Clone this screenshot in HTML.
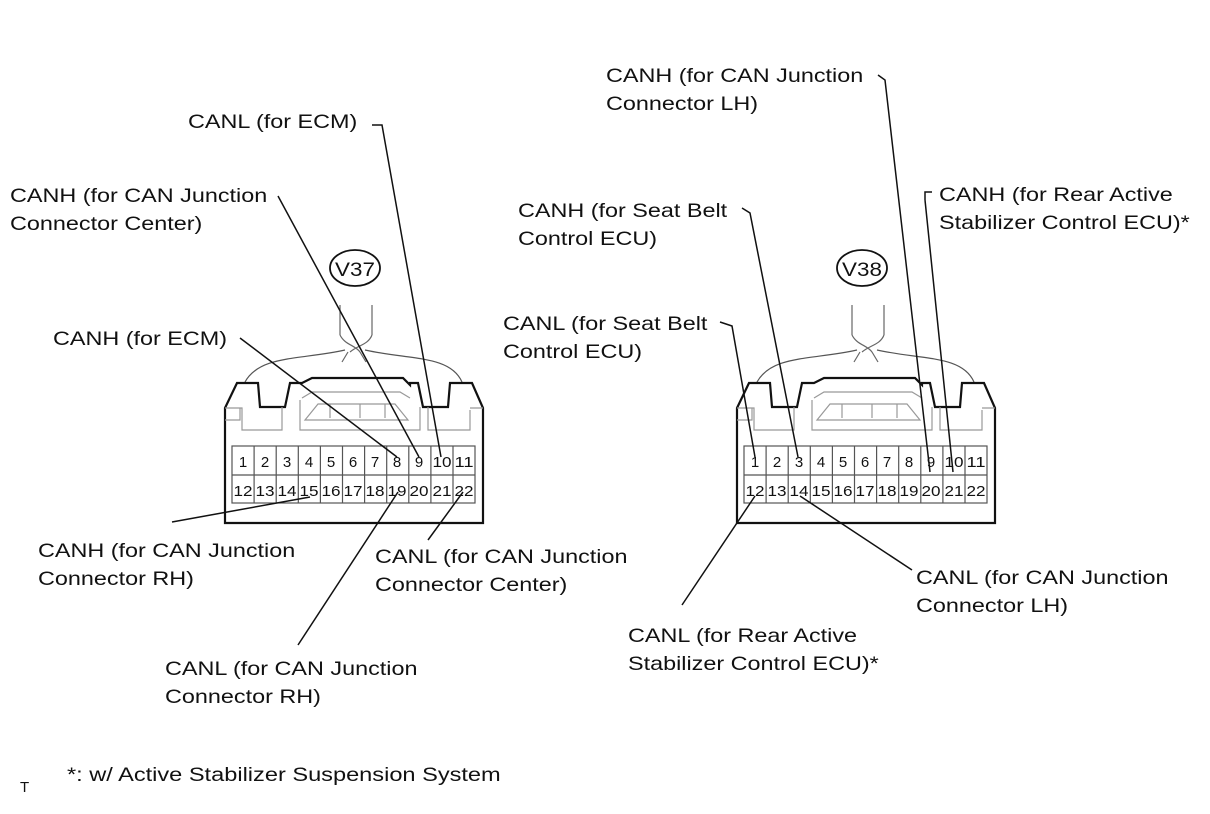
<!DOCTYPE html>
<html><head><meta charset="utf-8"><style>
html,body{margin:0;padding:0;background:#fff;}
svg{display:block;}
text{font-family:"Liberation Sans",Arial,sans-serif;fill:#111;}
.l{font-size:19.5px;}
.p{font-size:15px;}
</style></head><body>
<svg width="1210" height="814" viewBox="0 0 1210 814" xmlns="http://www.w3.org/2000/svg">
<defs>
<g id="conn">
  <path d="M340,305 L340,335 M372,305 L372,335" stroke="#666" stroke-width="1.2" fill="none"/>
  <path d="M340,335 C345,345 355,345 360,352 M372,335 C368,345 358,345 350,352 M348,352 L342,362 M360,352 L366,362" stroke="#666" stroke-width="1.2" fill="none"/>
  <path d="M345,350 C300,360 260,355 245,382 M365,350 C410,360 450,355 462,382" stroke="#555" stroke-width="1.2" fill="none"/>
  <path d="M225,523 L225,408 L237,383 L258,383 L260,407 L285,407 L290,383 L302,383 L312,378 L403,378 L410,385 L410,383 L418,383 L423,407 L448,407 L450,383 L472,383 L483,408 L483,523 Z" fill="#fff" stroke="#111" stroke-width="2.2"/>
  <path d="M225,408 L242,408 L242,430 L282,430 L282,407 M300,400 L300,430 L420,430 L420,407 M428,407 L428,430 L470,430 L470,410 M240,408 L240,420 L225,420 M483,408 L470,408" stroke="#999" stroke-width="1.2" fill="none"/>
  <path d="M302,398 L312,392 L400,392 L410,398 M305,420 L318,404 L395,404 L408,420 Z M330,404 L330,418 M360,404 L360,418 M385,404 L385,418" stroke="#999" stroke-width="1.2" fill="none"/>
  <rect x="232" y="446" width="243" height="57" fill="#fff" stroke="#555" stroke-width="1.2"/>
  <line x1="232" y1="475" x2="475" y2="475" stroke="#555" stroke-width="1.2"/>
  <g stroke="#555" stroke-width="1.2">
    <line x1="254.1" y1="446" x2="254.1" y2="503"/><line x1="276.2" y1="446" x2="276.2" y2="503"/>
    <line x1="298.3" y1="446" x2="298.3" y2="503"/><line x1="320.4" y1="446" x2="320.4" y2="503"/>
    <line x1="342.5" y1="446" x2="342.5" y2="503"/><line x1="364.6" y1="446" x2="364.6" y2="503"/>
    <line x1="386.7" y1="446" x2="386.7" y2="503"/><line x1="408.8" y1="446" x2="408.8" y2="503"/>
    <line x1="430.9" y1="446" x2="430.9" y2="503"/><line x1="453" y1="446" x2="453" y2="503"/>
  </g>
  <g text-anchor="middle">
    <text x="243" y="467" class="p">1</text><text x="265" y="467" class="p">2</text><text x="287" y="467" class="p">3</text>
    <text x="309" y="467" class="p">4</text><text x="331" y="467" class="p">5</text><text x="353" y="467" class="p">6</text>
    <text x="375" y="467" class="p">7</text><text x="397" y="467" class="p">8</text><text x="419" y="467" class="p">9</text>
    <text x="442" y="467" class="p" textLength="19" lengthAdjust="spacingAndGlyphs">10</text><text x="464" y="467" class="p" textLength="19" lengthAdjust="spacingAndGlyphs">11</text>
    <text x="243" y="496" class="p" textLength="19" lengthAdjust="spacingAndGlyphs">12</text><text x="265" y="496" class="p" textLength="19" lengthAdjust="spacingAndGlyphs">13</text><text x="287" y="496" class="p" textLength="19" lengthAdjust="spacingAndGlyphs">14</text>
    <text x="309" y="496" class="p" textLength="19" lengthAdjust="spacingAndGlyphs">15</text><text x="331" y="496" class="p" textLength="19" lengthAdjust="spacingAndGlyphs">16</text><text x="353" y="496" class="p" textLength="19" lengthAdjust="spacingAndGlyphs">17</text>
    <text x="375" y="496" class="p" textLength="19" lengthAdjust="spacingAndGlyphs">18</text><text x="397" y="496" class="p" textLength="19" lengthAdjust="spacingAndGlyphs">19</text><text x="419" y="496" class="p" textLength="19" lengthAdjust="spacingAndGlyphs">20</text>
    <text x="442" y="496" class="p" textLength="19" lengthAdjust="spacingAndGlyphs">21</text><text x="464" y="496" class="p" textLength="19" lengthAdjust="spacingAndGlyphs">22</text>
  </g>
</g>
</defs>

<use href="#conn"/>
<use href="#conn" transform="translate(512,0)"/>

<ellipse cx="355" cy="268" rx="25" ry="18" fill="#fff" stroke="#111" stroke-width="1.8"/>
<text class="l" text-anchor="middle" transform="translate(355,276) scale(1.15,1)">V37</text>
<ellipse cx="862" cy="268" rx="25" ry="18" fill="#fff" stroke="#111" stroke-width="1.8"/>
<text class="l" text-anchor="middle" transform="translate(862,276) scale(1.15,1)">V38</text>

<g stroke="#111" stroke-width="1.5" fill="none">
  <path d="M372,125 L382,125 L441,457"/>
  <path d="M278,196 L419,457"/>
  <path d="M240,338 L397,457"/>
  <path d="M172,522 L310,497"/>
  <path d="M428,540 L463,492"/>
  <path d="M298,645 L398,492"/>
  <path d="M878,75 L885,80 L930,472"/>
  <path d="M925,200 L925,192 L932,192 M925,200 L953,472"/>
  <path d="M742,208 L750,213 L798,457"/>
  <path d="M720,322 L732,326 L755,457"/>
  <path d="M912,570 L800,496"/>
  <path d="M682,605 L755,496"/>
</g>

<g class="l">
  <text transform="translate(188,128) scale(1.2,1)">CANL (for ECM)</text>
  <text transform="translate(10,202) scale(1.2,1)">CANH (for CAN Junction</text>
  <text transform="translate(10,230) scale(1.2,1)">Connector Center)</text>
  <text transform="translate(53,345) scale(1.2,1)">CANH (for ECM)</text>
  <text transform="translate(38,557) scale(1.2,1)">CANH (for CAN Junction</text>
  <text transform="translate(38,585) scale(1.2,1)">Connector RH)</text>
  <text transform="translate(375,563) scale(1.2,1)">CANL (for CAN Junction</text>
  <text transform="translate(375,591) scale(1.2,1)">Connector Center)</text>
  <text transform="translate(165,675) scale(1.2,1)">CANL (for CAN Junction</text>
  <text transform="translate(165,703) scale(1.2,1)">Connector RH)</text>

  <text transform="translate(606,82) scale(1.2,1)">CANH (for CAN Junction</text>
  <text transform="translate(606,110) scale(1.2,1)">Connector LH)</text>
  <text transform="translate(939,201) scale(1.2,1)">CANH (for Rear Active</text>
  <text transform="translate(939,229) scale(1.2,1)">Stabilizer Control ECU)*</text>
  <text transform="translate(518,217) scale(1.2,1)">CANH (for Seat Belt</text>
  <text transform="translate(518,245) scale(1.2,1)">Control ECU)</text>
  <text transform="translate(503,330) scale(1.2,1)">CANL (for Seat Belt</text>
  <text transform="translate(503,358) scale(1.2,1)">Control ECU)</text>
  <text transform="translate(916,584) scale(1.2,1)">CANL (for CAN Junction</text>
  <text transform="translate(916,612) scale(1.2,1)">Connector LH)</text>
  <text transform="translate(628,642) scale(1.2,1)">CANL (for Rear Active</text>
  <text transform="translate(628,670) scale(1.2,1)">Stabilizer Control ECU)*</text>

  <text transform="translate(67,781) scale(1.21,1)">*: w/ Active Stabilizer Suspension System</text>
</g>
<text x="20" y="792" style="font-size:15px">T</text>
</svg>
</body></html>
